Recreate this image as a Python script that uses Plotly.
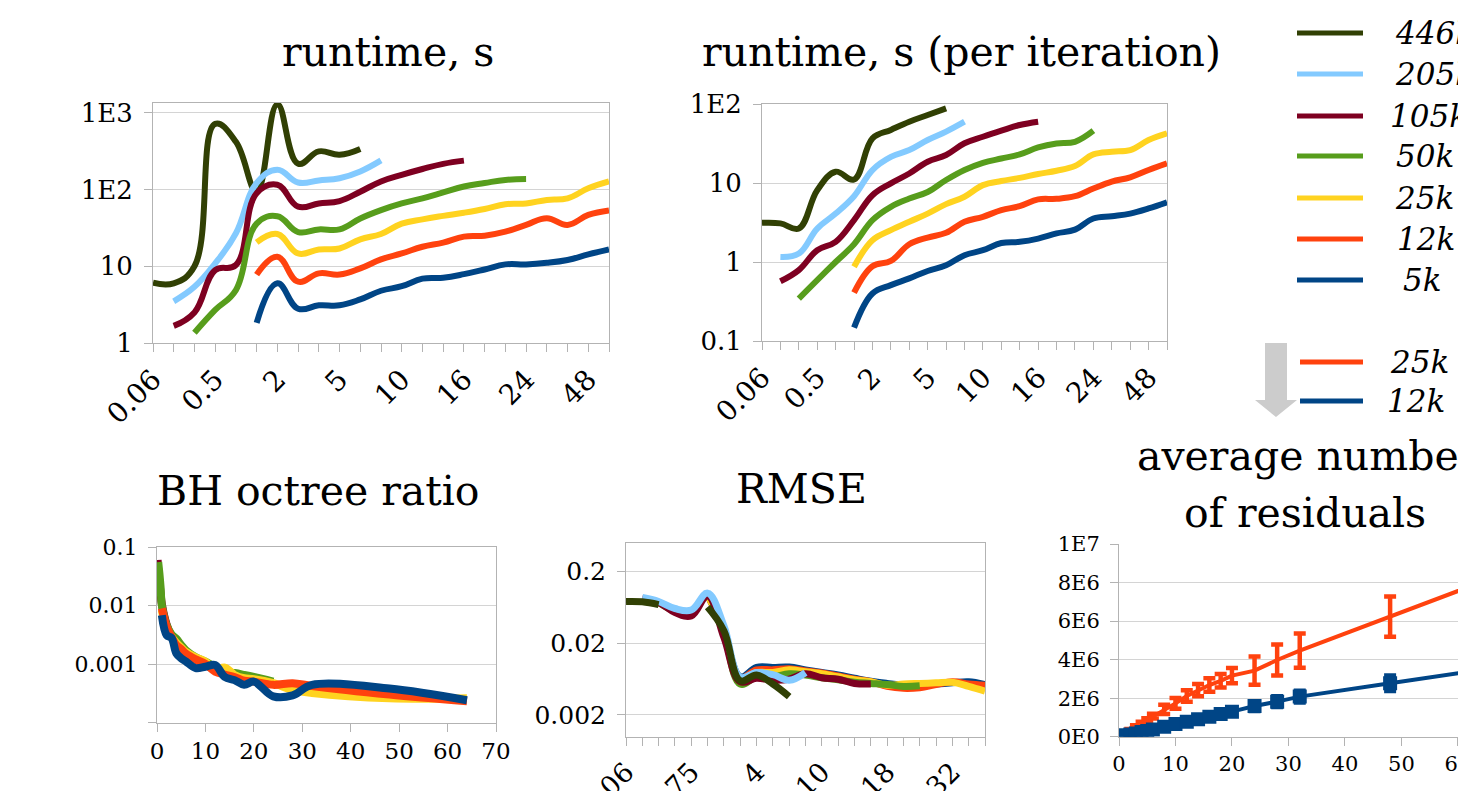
import plotly.graph_objects as go

W, H = 1458, 791

# ---------------- data ----------------
categories = ["0.06", "0.125", "0.25", "0.5", "0.75", "1", "2", "3", "4", "5", "6", "8",
              "10", "12", "14", "16", "18", "20", "24", "28", "32", "48", "64"]
x_numeric = [0.06, 0.125, 0.25, 0.5, 0.75, 1, 2, 3, 4, 5, 6, 8,
             10, 12, 14, 16, 18, 20, 24, 28, 32, 48, 64]
series_names = ["446k", "205k", "105k", "50k", "25k", "12k", "5k"]
series_colors = ["#314004", "#83caff", "#7e0021", "#579d1c", "#ffd320", "#ff420e", "#004586"]

N = None
runtime_446k = [6.1, 6.0, 10.0, 720, 420, 95, 1290, 218, 316, 285, 339] + [N] * 12
runtime_205k = [N, 3.5, 5.4, 10.9, 27, 122, 182, 124, 132, 141, 173, 241] + [N] * 11
runtime_105k = [N, 1.67, 2.5, 8.9, 10.4, 90, 116, 60, 66, 71, 94, 128, 156, 186, 217, 239] + [N] * 7
runtime_50k = [N, N, 1.36, 2.7, 4.9, 36, 45, 28, 30.3, 30.3, 42, 54, 66, 77, 92, 110, 122, 134, 138] + [N] * 4
runtime_25k = [N] * 5 + [20.5, 26.4, 14.7, 16.6, 17.1, 22.5, 26.4, 36, 41, 45.5, 50, 56, 64.6, 66, 73.5, 77, 104, 128]
runtime_12k = [N] * 5 + [7.8, 13.3, 6.3, 8.1, 7.8, 9.4, 12.3, 14.7, 18, 20.4, 24.4, 25.1, 28.3, 34.7, 42.4, 34.7, 46.8, 53.5]
runtime_5k = [N] * 5 + [1.83, 6.0, 2.8, 3.1, 3.1, 3.7, 4.8, 5.5, 6.9, 7.1, 7.9, 9.1, 10.6, 10.6, 11.1, 12.1, 14.3, 16.6]

periter_446k = [3.13, 3.08, 2.65, 8.1, 13.9, 11.1, 36.7, 47, 59.7, 72.5, 88] + [N] * 12
periter_205k = [N, 1.16, 1.28, 2.65, 4.1, 6.8, 14.6, 21.4, 26.1, 35, 44.7, 59.7] + [N] * 11
periter_105k = [N, 0.57, 0.79, 1.41, 1.8, 3.39, 7.0, 9.9, 13.2, 18.6, 22.6, 31.8, 38.5, 45.9, 54.2, 59.7] + [N] * 7
periter_50k = [N, N, 0.344, 0.59, 1.0, 1.68, 3.39, 5.0, 6.35, 7.7, 10.9, 14.6, 18.0, 20.4, 23.0, 28.2, 31.7, 33.2, 45.9] + [N] * 4
periter_25k = [N] * 5 + [0.87, 1.89, 2.53, 3.23, 4.1, 5.4, 6.7, 9.4, 10.6, 11.6, 13.0, 14.3, 16.4, 23.0, 24.9, 26.1, 35, 42.5]
periter_12k = [N] * 5 + [0.41, 0.885, 1.03, 1.68, 2.04, 2.34, 3.23, 3.73, 4.54, 5.1, 6.2, 6.3, 6.8, 8.5, 10.4, 11.8, 14.6, 17.7]
periter_5k = [N] * 5 + [0.148, 0.40, 0.51, 0.62, 0.77, 0.91, 1.22, 1.41, 1.74, 1.8, 1.98, 2.3, 2.57, 3.55, 3.8, 4.1, 4.76, 5.7]

bh_105k = [N, 0.06, 0.04, 0.025, 0.016, 0.0105, 0.0047, 0.003, 0.0025, 0.002, 0.0016, 0.0012,
           0.00098, 0.00078, 0.00068, 0.00062] + [N] * 7
bh_50k = [N, N, 0.055, 0.035, 0.02, 0.0101, 0.0046, 0.0032, 0.0027, 0.0021, 0.0017, 0.0013,
          0.0011, 0.00088, 0.00074, 0.0007, 0.00065, 0.0006, 0.0005] + [N] * 4
bh_25k = [N] * 5 + [0.0083, 0.0038, 0.0029, 0.0023, 0.0019, 0.0016, 0.0013, 0.0011, 0.0008, 0.00087,
                    0.00065, 0.00057, 0.00055, 0.00047, 0.00036, 0.00032, 0.00026, 0.00026]
bh_12k = [N] * 5 + [0.0089, 0.0043, 0.0029, 0.0021, 0.0018, 0.0015, 0.0012, 0.001, 0.00074, 0.00066,
                    0.0006, 0.00052, 0.0005, 0.00044, 0.00047, 0.00042, 0.0003, 0.00023]
bh_5k = [N] * 5 + [0.0068, 0.0031, 0.0028, 0.00152, 0.00125, 0.0011, 0.00085, 0.0009, 0.00096, 0.0006,
                   0.00053, 0.00044, 0.0005, 0.00028, 0.00029, 0.00044, 0.00038, 0.00024]

rmse_446k = [0.0764, 0.0756, 0.069, N, N, 0.064, 0.0299, 0.0060, 0.0072, 0.0054, 0.0036] + [N] * 12
rmse_205k = [N, 0.0869, 0.0764, 0.061, 0.058, 0.10, 0.035, 0.0067, 0.0078, 0.0073, 0.0061, 0.0078] + [N] * 11
rmse_105k = [N, 0.0826, 0.0741, 0.0537, 0.048, 0.0915, 0.024, 0.0058, 0.0065, 0.0061, 0.0063, 0.0075,
             0.0066, 0.0063, 0.0055, 0.0054] + [N] * 7
rmse_50k = [N, N, 0.074, 0.056, 0.05, 0.095, 0.028, 0.0054, 0.0068, 0.0068, 0.0075, 0.0072, 0.0066,
            0.0062, 0.0057, 0.0055, 0.0053, 0.0050, 0.0051] + [N] * 4
rmse_25k = [N] * 5 + [0.095, 0.03, 0.0065, 0.0078, 0.0078, 0.0085, 0.008, 0.0075, 0.0068, 0.0062, 0.0058,
                      0.0052, 0.0054, 0.0055, 0.0056, 0.0057, 0.0050, 0.0043]
rmse_12k = [N] * 5 + [0.095, 0.03, 0.0066, 0.0085, 0.0085, 0.0088, 0.0082, 0.0077, 0.007, 0.0063, 0.0058,
                      0.005, 0.0047, 0.0048, 0.0053, 0.0058, 0.0054, 0.0052]
rmse_5k = [N] * 5 + [0.095, 0.03, 0.0068, 0.0092, 0.0092, 0.0093, 0.0085, 0.0078, 0.0072, 0.0065, 0.0059,
                     0.0055, 0.0052, 0.0052, 0.0054, 0.0056, 0.0058, 0.0053]

res_x = [1, 2, 3, 4, 5, 6, 8, 10, 12, 14, 16, 18, 20, 24, 28, 32, 48, 64]
res_25k = [0.18e6, 0.35e6, 0.52e6, 0.69e6, 0.86e6, 1.07e6, 1.42e6, 1.73e6, 2.11e6, 2.42e6, 2.68e6,
           2.9e6, 3.17e6, 3.43e6, 3.98e6, 4.47e6, 6.23e6, 8.0e6]
res_25k_err = [0.03e6, 0.05e6, 0.07e6, 0.09e6, 0.1e6, 0.12e6, 0.24e6, 0.28e6, 0.3e6, 0.32e6, 0.35e6,
               0.35e6, 0.4e6, 0.73e6, 0.8e6, 0.89e6, 1.04e6, 1.2e6]
res_12k = [0.07e6, 0.12e6, 0.17e6, 0.24e6, 0.3e6, 0.38e6, 0.52e6, 0.66e6, 0.78e6, 0.9e6, 1.04e6,
           1.18e6, 1.3e6, 1.59e6, 1.82e6, 2.08e6, 2.77e6, 3.46e6]
res_12k_err = [0.02e6, 0.03e6, 0.04e6, 0.05e6, 0.06e6, 0.07e6, 0.09e6, 0.1e6, 0.12e6, 0.13e6, 0.15e6,
               0.16e6, 0.18e6, 0.25e6, 0.28e6, 0.3e6, 0.4e6, 0.5e6]

# ---------------- figure ----------------
FONT = "DejaVu Serif"
GRID = "#d4d4d4"
FRAME = "#b3b3b3"


def fx(px):
    return px / W


def fy(py):
    return 1 - py / H


fig = go.Figure()

runtime = [runtime_446k, runtime_205k, runtime_105k, runtime_50k, runtime_25k, runtime_12k, runtime_5k]
periter = [periter_446k, periter_205k, periter_105k, periter_50k, periter_25k, periter_12k, periter_5k]
for name, col, ys in zip(series_names, series_colors, runtime):
    fig.add_trace(go.Scatter(x=categories, y=ys, mode="lines", name=name, xaxis="x", yaxis="y",
                             line=dict(color=col, width=6, shape="spline", smoothing=1.2), showlegend=False))
for name, col, ys in zip(series_names, series_colors, periter):
    fig.add_trace(go.Scatter(x=categories, y=ys, mode="lines", name=name, xaxis="x2", yaxis="y2",
                             line=dict(color=col, width=6, shape="spline", smoothing=1.1), showlegend=False))

bh = [("105k", "#7e0021", bh_105k), ("50k", "#579d1c", bh_50k), ("25k", "#ffd320", bh_25k),
      ("12k", "#ff420e", bh_12k), ("5k", "#004586", bh_5k)]
for name, col, ys in bh:
    fig.add_trace(go.Scatter(x=x_numeric, y=ys, mode="lines", name=name, xaxis="x3", yaxis="y3",
                             line=dict(color=col, width=8, shape="spline", smoothing=1.0), showlegend=False))

rmse = [rmse_5k, rmse_12k, rmse_25k, rmse_50k, rmse_105k, rmse_205k, rmse_446k]
for name, col, ys in zip(series_names[::-1], series_colors[::-1], rmse):
    fig.add_trace(go.Scatter(x=categories, y=ys, mode="lines", name=name, xaxis="x4", yaxis="y4",
                             line=dict(color=col, width=7, shape="spline", smoothing=1.1), showlegend=False))

fig.add_trace(go.Scatter(x=res_x, y=res_25k, mode="lines", name="25k", xaxis="x5", yaxis="y5",
                         line=dict(color="#ff420e", width=4),
                         error_y=dict(type="data", array=res_25k_err, color="#ff420e", thickness=4.5, width=6),
                         showlegend=False))
fig.add_trace(go.Scatter(x=res_x, y=res_12k, mode="lines+markers", name="12k", xaxis="x5", yaxis="y5",
                         line=dict(color="#004586", width=4),
                         marker=dict(symbol="square", size=14, color="#004586"),
                         error_y=dict(type="data", array=res_12k_err, color="#004586", thickness=4.5, width=6),
                         showlegend=False))


def tickfont(s):
    return dict(family=FONT, size=s, color="black")


def cat_ticks(step):
    return [c if i % step == 0 else "" for i, c in enumerate(categories)]


common_y = dict(showgrid=True, gridcolor=GRID, gridwidth=1, showline=True, linecolor=FRAME, linewidth=1,
                ticks="outside", ticklen=8, tickcolor=FRAME, zeroline=False, automargin=False,
                ticklabeloverflow="allow", ticklabelstandoff=6)
common_x = dict(showgrid=False, showline=True, linecolor=FRAME, linewidth=1, ticks="outside", ticklen=8,
                tickcolor=FRAME, zeroline=False, automargin=False, ticklabeloverflow="allow")

fig.update_layout(
    width=W, height=H, margin=dict(l=0, r=0, t=0, b=0),
    paper_bgcolor="white", plot_bgcolor="white", showlegend=False,
    xaxis=dict(common_x, domain=[fx(153), fx(609)], anchor="y", type="category", range=[0, 22],
               tickmode="array", tickvals=categories, ticktext=cat_ticks(3), tickangle=-45,
               tickfont=tickfont(28), mirror=True),
    yaxis=dict(common_y, domain=[fy(343), fy(103)], anchor="x", type="log", range=[0, 3.13],
               tickmode="array", tickvals=[1, 10, 100, 1000], ticktext=["1", "10", "1E2", "1E3"],
               tickfont=tickfont(26), mirror=True),
    xaxis2=dict(common_x, domain=[fx(762), fx(1167)], anchor="y2", type="category", range=[0, 22],
                tickmode="array", tickvals=categories, ticktext=cat_ticks(3), tickangle=-45,
                tickfont=tickfont(28), mirror=True),
    yaxis2=dict(common_y, domain=[fy(341), fy(104)], anchor="x2", type="log", range=[-1, 2],
                tickmode="array", tickvals=[0.1, 1, 10, 100], ticktext=["0.1", "1", "10", "1E2"],
                tickfont=tickfont(26), mirror=True),
    xaxis3=dict(common_x, domain=[fx(157), fx(496)], anchor="y3", range=[0, 70],
                tickmode="array", tickvals=[0, 10, 20, 30, 40, 50, 60, 70], tickangle=0,
                tickfont=tickfont(23), mirror=True),
    yaxis3=dict(common_y, domain=[fy(722.5), fy(547)], anchor="x3", type="log", range=[-4, -1],
                tickmode="array", tickvals=[0.0001, 0.001, 0.01, 0.1], ticktext=["", "0.001", "0.01", "0.1"],
                tickfont=tickfont(22), mirror=True),
    xaxis4=dict(common_x, domain=[fx(626), fx(985)], anchor="y4", type="category", range=[0, 22],
                tickmode="array", tickvals=categories, ticktext=cat_ticks(4), tickangle=-45,
                tickfont=tickfont(27), mirror=True),
    yaxis4=dict(common_y, domain=[fy(736.5), fy(543)], anchor="x4", type="log", range=[-3, -0.301],
                tickmode="array", tickvals=[0.002, 0.02, 0.2], ticktext=["0.002", "0.02", "0.2"],
                tickfont=tickfont(25), mirror=True),
    xaxis5=dict(common_x, domain=[fx(1119), 1.0], anchor="y5", range=[0, 60.02],
                tickmode="array", tickvals=[0, 10, 20, 30, 40, 50, 60, 70], tickangle=0,
                tickfont=tickfont(21)),
    yaxis5=dict(common_y, domain=[fy(736.7), fy(544)], anchor="x5", range=[0, 1e7],
                tickmode="array", tickvals=[0, 2e6, 4e6, 6e6, 8e6, 1e7],
                ticktext=["0E0", "2E6", "4E6", "6E6", "8E6", "1E7"], tickfont=tickfont(21)),
)

# titles
titles = [
    ("runtime, s", 388, 52, "center"),
    ("runtime, s (per iteration)", 962, 52, "center"),
    ("BH octree ratio", 318, 491, "center"),
    ("RMSE", 801, 489, "center"),
    ("average number", 1135, 456, "left"),
    ("of residuals", 1305, 513, "center"),
]
for text, px, py, anchor in titles:
    fig.add_annotation(text=text, x=fx(px), y=fy(py), xref="paper", yref="paper", xanchor=anchor,
                       yanchor="middle", showarrow=False, font=dict(family=FONT, size=41, color="black"))

# legend (drawn as decorations)
legend_rows = [
    ("446k", "#314004", 33, 1393), ("205k", "#83caff", 74, 1393), ("105k", "#7e0021", 116, 1388),
    ("50k", "#579d1c", 156, 1394), ("25k", "#ffd320", 198, 1393), ("12k", "#ff420e", 239, 1395),
    ("5k", "#004586", 280, 1401),
]
for text, col, py, tx in legend_rows:
    fig.add_shape(type="line", xref="paper", yref="paper", x0=fx(1297), x1=fx(1363), y0=fy(py), y1=fy(py),
                  line=dict(color=col, width=5))
    fig.add_annotation(text="<i>" + text + "</i>", x=fx(tx), y=fy(py), xref="paper", yref="paper",
                       xanchor="left", yanchor="middle", showarrow=False,
                       font=dict(family=FONT, size=31, color="black"))
for text, col, py, tx in [("25k", "#ff420e", 362, 1388), ("12k", "#004586", 401, 1385)]:
    fig.add_shape(type="line", xref="paper", yref="paper", x0=fx(1300), x1=fx(1363), y0=fy(py), y1=fy(py),
                  line=dict(color=col, width=5))
    fig.add_annotation(text="<i>" + text + "</i>", x=fx(tx), y=fy(py), xref="paper", yref="paper",
                       xanchor="left", yanchor="middle", showarrow=False,
                       font=dict(family=FONT, size=31, color="black"))

# grey arrow
pts = [(1265, 343), (1287, 343), (1287, 400), (1297, 400), (1276, 417), (1255, 400), (1265, 400)]
path = "M " + " L ".join(f"{fx(a):.5f},{fy(b):.5f}" for a, b in pts) + " Z"
fig.add_shape(type="path", path=path, xref="paper", yref="paper", fillcolor="#cccccc",
              line=dict(color="#cccccc", width=0))

fig.write_html("out.html", config={"displayModeBar": False},
               post_script="document.body.style.margin='0';document.body.style.overflow='hidden';")
